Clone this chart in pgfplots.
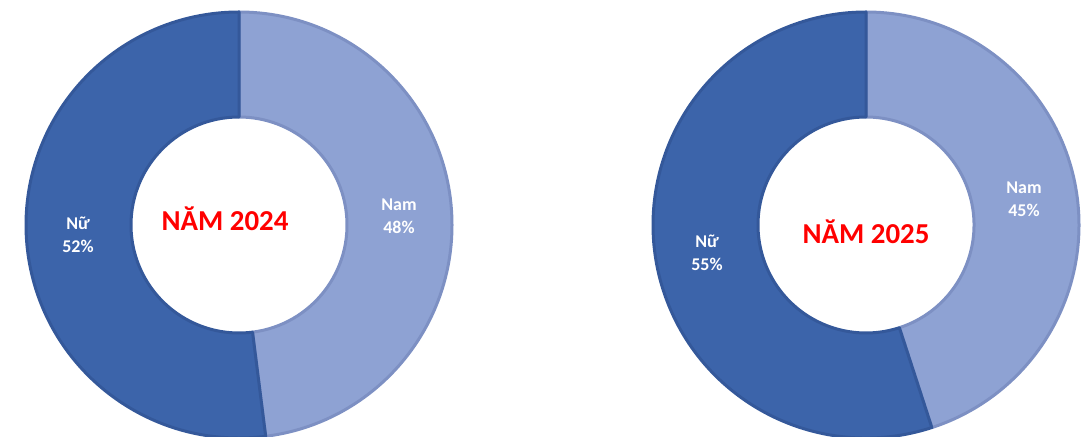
\documentclass[border=0pt]{standalone}
\usepackage{pgfplots}
\pgfplotsset{compat=1.18}
\usepackage{pgfplotstable}
\usepackage{fontspec}
\setmainfont{Carlito}

\definecolor{nuBlue}{HTML}{3C64AA}
\definecolor{nuEdge}{HTML}{34589A}
\definecolor{namBlue}{HTML}{8EA2D3}
\definecolor{namEdge}{HTML}{7D90C3}

% share (%) of men / women
\pgfplotstableread{
nam nu
48 52
}\yrA
\pgfplotstableread{
nam nu
45 55
}\yrB

\pgfplotstablegetelem{0}{nam}\of\yrA \let\namA\pgfplotsretval
\pgfplotstablegetelem{0}{nu}\of\yrA  \let\nuA\pgfplotsretval
\pgfplotstablegetelem{0}{nam}\of\yrB \let\namB\pgfplotsretval
\pgfplotstablegetelem{0}{nu}\of\yrB  \let\nuB\pgfplotsretval
\pgfmathsetmacro\cutA{90-3.6*\namA}
\pgfmathsetmacro\cutB{90-3.6*\namB}

% #1,#2 centre, #3 start angle, #4 end angle, #5 fill, #6 edge
\newcommand\slice[6]{%
  \fill[#5,draw=#6,line width=3bp,line join=round]
    ([shift={(#3:213bp)}]axis cs:#1,#2) arc[start angle=#3,end angle=#4,radius=213bp]
    -- ([shift={(#4:108bp)}]axis cs:#1,#2) arc[start angle=#4,end angle=#3,radius=108bp]
    -- cycle;}

\begin{document}
\begin{tikzpicture}
\useasboundingbox (0,0) rectangle (1087bp,437bp);
\begin{axis}[
  at={(0,0)}, anchor=south west,
  width=1087bp, height=437bp, scale only axis,
  xmin=0, xmax=1087, ymin=0, ymax=437,
  hide axis,
]
  % 2024
  \slice{239}{212}{90}{\cutA}{namBlue}{namEdge}
  \slice{239}{212}{\cutA}{-270}{nuBlue}{nuEdge}
  % 2025
  \slice{866}{212}{90}{\cutB}{namBlue}{namEdge}
  \slice{866}{212}{\cutB}{-270}{nuBlue}{nuEdge}

  \node[text=red,font=\bfseries\fontsize{29}{32}\selectfont] at (axis cs:225,218) {NĂM 2024};
  \node[text=red,font=\bfseries\fontsize{29}{32}\selectfont] at (axis cs:866,205) {NĂM 2025};

  \node[text=white,align=center,font=\bfseries\fontsize{18}{23}\selectfont] at (axis cs:78,202) {Nữ\\\nuA\%};
  \node[text=white,align=center,font=\bfseries\fontsize{18}{23}\selectfont] at (axis cs:399,221) {Nam\\\namA\%};
  \node[text=white,align=center,font=\bfseries\fontsize{18}{23}\selectfont] at (axis cs:1024,238) {Nam\\\namB\%};
  \node[text=white,align=center,font=\bfseries\fontsize{18}{23}\selectfont] at (axis cs:707,184) {Nữ\\\nuB\%};
\end{axis}
\end{tikzpicture}
\end{document}
